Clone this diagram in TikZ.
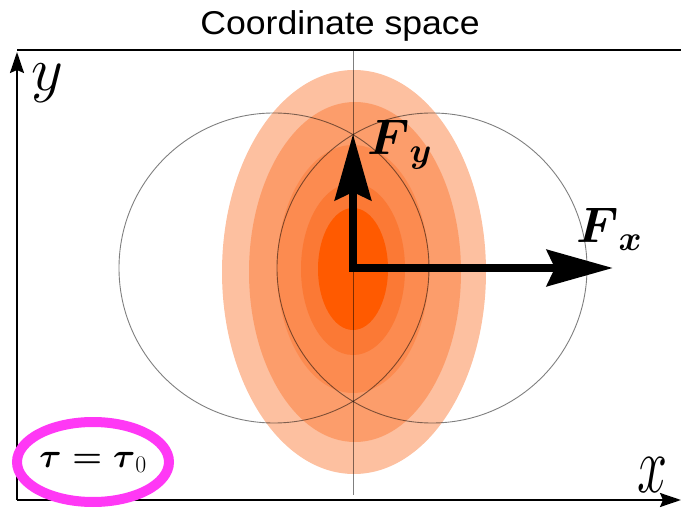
\RequirePackage{fix-cm}
\documentclass[tikz,border=0pt]{standalone}
\usepackage{amsmath}
\usepackage{graphicx}
\usepackage{fontspec}
\usetikzlibrary{arrows.meta,shapes.geometric}
\newfontfamily\titlefont{Liberation Sans}
\definecolor{blobA}{HTML}{FDC0A0}
\definecolor{blobB}{HTML}{FC9D6B}
\definecolor{blobC}{HTML}{FC8B50}
\definecolor{blobD}{HTML}{FB7935}
\definecolor{blobE}{HTML}{FF5A00}
\definecolor{ringpink}{HTML}{FF38F5}

\begin{document}
\begin{tikzpicture}[x=1pt,y=-1pt,
  axis/.style={line width=2pt,-{Stealth[length=21pt,width=14pt,inset=3pt]}},
  force/.style={line width=8.5pt,{Stealth[length=66pt,width=36pt,inset=8pt]}-{Stealth[length=66pt,width=36pt,inset=8pt]}},
  guide/.style={draw=black,draw opacity=0.5,line width=0.9pt},
  lab/.style={inner sep=0pt}]
\useasboundingbox (0,0) rectangle (681,508);
% density blob
\fill[blobA] (354,272) ellipse [x radius=132,y radius=202];
\fill[blobB] (355,272) ellipse [x radius=106,y radius=170];
\fill[blobC] (353,269) ellipse [x radius=76,y radius=124];
\fill[blobD] (353,269) ellipse [x radius=52,y radius=86];
\fill[blobE] (353,269) ellipse [x radius=35,y radius=61];
% the two circles and the middle line
\draw[guide] (274,268) circle [radius=155];
\draw[guide] (432,268) circle [radius=155];
\coordinate (vtop) at (353,50);
\coordinate (vbot) at (353,495);
\draw[guide] (vtop) -- (vbot);
% frame and axes
\coordinate (O) at (17,500);
\coordinate (ytip) at (17,52);
\coordinate (xtip) at (681,500);
\coordinate (ftop) at (17,50);
\coordinate (fend) at (681,50);
\draw[line width=1.8pt] (ftop) -- (fend);
\draw[axis] (O) -- (ytip);
\draw[axis] (O) -- (xtip);
% forces
\coordinate (c) at (353,268);
\coordinate (fy) at (353,134);
\coordinate (fx) at (613,268);
\draw[force] (fy) -- (c) -- (fx);
% labels
\node[lab,anchor=base] (title) at (340,35) {\titlefont\fontsize{33}{38}\selectfont\scalebox{1.08}[1]{Coordinate space}};
\node[lab] (ylab) at (47,83) {\fontsize{62}{70}\selectfont $y$};
\node[lab] (xlab) at (653,475) {\fontsize{54}{60}\selectfont\scalebox{1}[1.5]{$x$}};
\node[lab,anchor=base west] (Fy) at (367,155) {\fontsize{50}{60}\selectfont $\boldsymbol{F}_{\boldsymbol{y}}$};
\node[lab,anchor=base west] (Fx) at (576,243) {\fontsize{50}{60}\selectfont $\boldsymbol{F}_{\boldsymbol{x}}$};
\node[draw=ringpink,line width=10pt,ellipse,inner sep=0pt,minimum width=148pt,minimum height=80pt] (tau) at (93,462)
  {\fontsize{34}{40}\selectfont $\boldsymbol{\tau=\tau}_0$};
\end{tikzpicture}
\end{document}
